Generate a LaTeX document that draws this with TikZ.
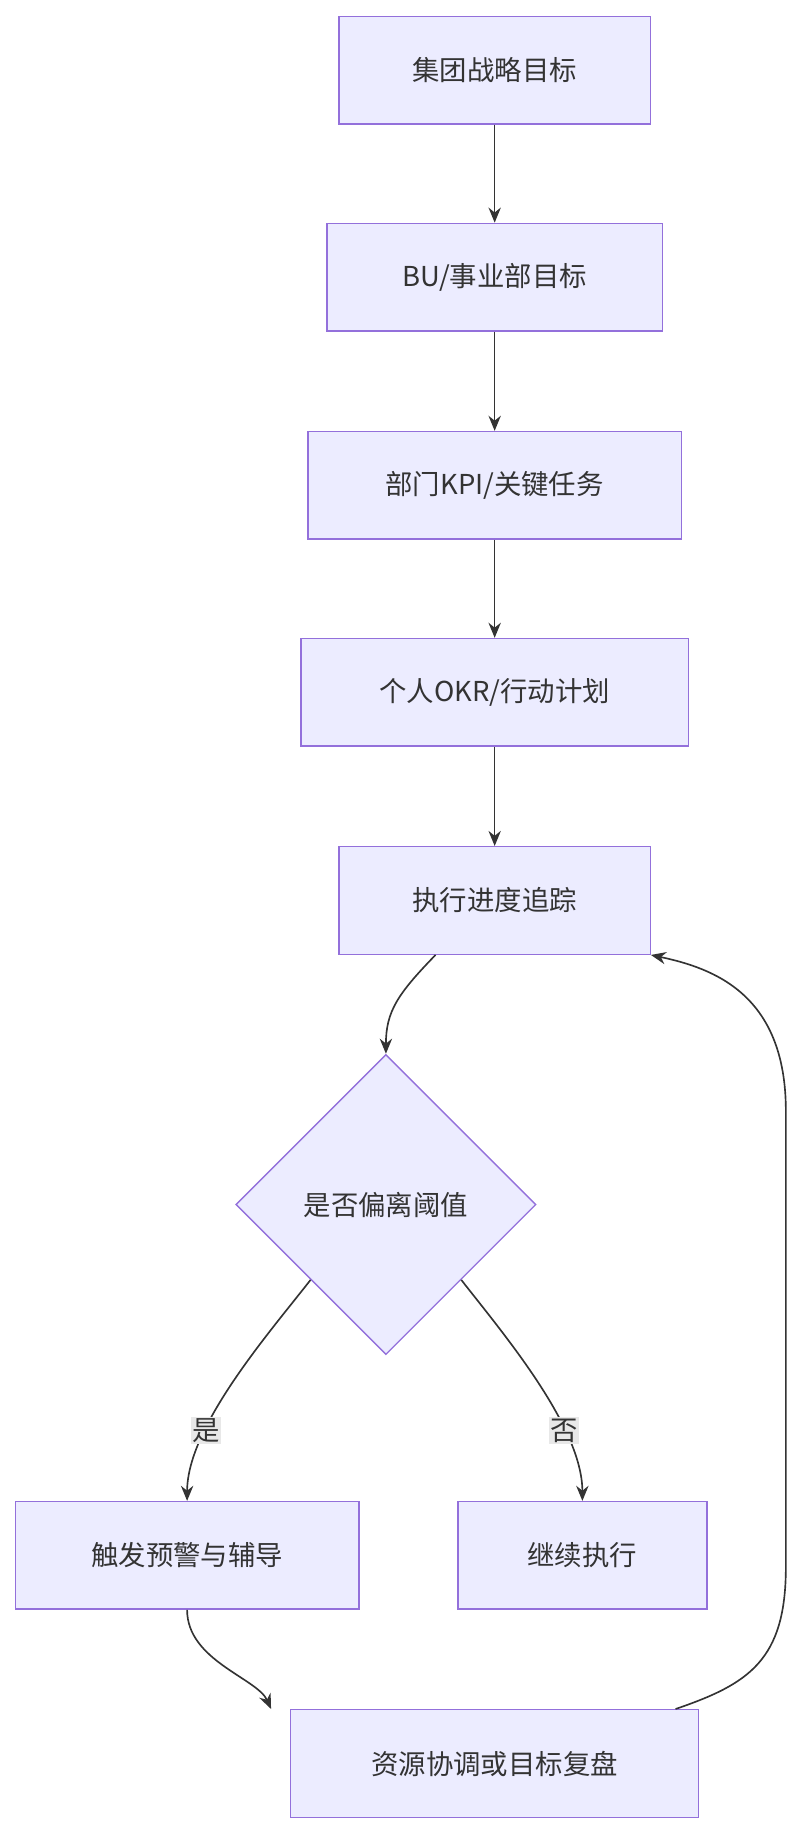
\documentclass[tikz,border=0pt]{standalone}
\usepackage{fontspec}
\setmainfont{Noto Sans CJK SC}
\usepackage{xcolor}
\usetikzlibrary{shapes.geometric, arrows.meta}
\definecolor{boxfill}{HTML}{ECECFF}
\definecolor{boxline}{HTML}{9370DB}
\definecolor{ink}{HTML}{333333}
\definecolor{lblbg}{HTML}{E8E8E8}
\tikzstyle{process} = [rectangle, minimum height=2.76cm, text centered, draw=boxline, fill=boxfill, line width=1pt, text=ink, font=\fontsize{20}{24}\selectfont]
\tikzstyle{decision} = [diamond, minimum width=7.7cm, minimum height=7.7cm, inner sep=0pt, text centered, draw=boxline, fill=boxfill, line width=1pt, text=ink, font=\fontsize{20}{24}\selectfont]
\tikzstyle{arrow} = [ink, line width=1.2pt, -{Stealth[length=11pt,width=9pt]}]
\tikzstyle{lbl} = [fill=lblbg, inner sep=1pt, text=ink, font=\fontsize{20}{24}\selectfont]

\begin{document}
\begin{tikzpicture}[x=0.03cm, y=-0.03cm]
\useasboundingbox (0,0) rectangle (690,1570);

% Nodes
\node (goal) [process, minimum width=7.98cm] at (423,60) {集团战略目标};
\node (bu) [process, minimum width=8.61cm] at (423,237) {BU/事业部目标};
\node (dept) [process, minimum width=9.57cm] at (423,415) {部门KPI/关键任务};
\node (okr) [process, minimum width=9.93cm] at (423,592) {个人OKR/行动计划};
\node (track) [process, minimum width=7.98cm] at (423,770) {执行进度追踪};
\node (check) [decision] at (330,1030) {是否偏离阈值};
\node (warn) [process, minimum width=8.82cm] at (160,1330) {触发预警与辅导};
\node (keep) [process, minimum width=6.39cm] at (498,1330) {继续执行};
\node (review) [process, minimum width=10.47cm] at (423,1508) {资源协调或目标复盘};

% Arrows
\draw [arrow] (goal) -- (bu);
\draw [arrow] (bu) -- (dept);
\draw [arrow] (dept) -- (okr);
\draw [arrow] (okr) -- (track);
\draw [arrow] (track.south west) ++(83,0) .. controls (340,850) and (330,865) .. (check.north);
\draw [arrow] (check.south west) ++(0,0) .. controls (230,1140) and (160,1220) .. (warn.north) node [lbl, pos=0.7] {是};
\draw [arrow] (check.south east) .. controls (430,1140) and (498,1220) .. (keep.north) node [lbl, pos=0.7] {否};
\draw [arrow] (warn.south) .. controls (160,1420) and (220,1435) .. ([xshift=-136\pgflinewidth]review.north);
\draw [arrow] ([xshift=132]review.north) .. controls (640,1440) and (672,1420) .. (672,1340) -- (672,950) .. controls (672,850) and (610,828) .. (track.south east);

\end{tikzpicture}
\end{document}
